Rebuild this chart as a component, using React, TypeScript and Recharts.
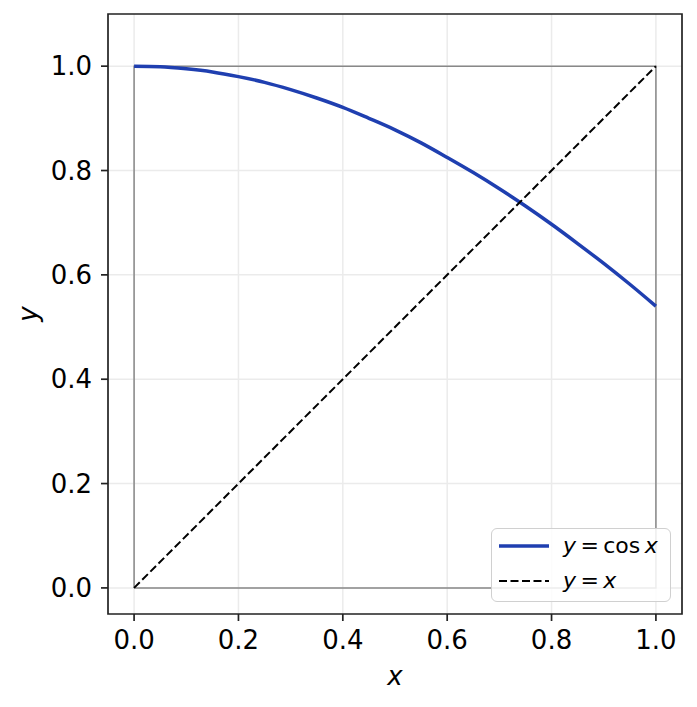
import React from 'react';
import {
  ComposedChart,
  Line,
  XAxis,
  YAxis,
  CartesianGrid,
  ReferenceArea,
  Legend,
  Label,
} from 'recharts';

const X_TICKS = [0, 0.2, 0.4, 0.6, 0.8, 1.0];
const Y_TICKS = [0, 0.2, 0.4, 0.6, 0.8, 1.0];

const COS_X = [0, 0.05, 0.1, 0.15, 0.2, 0.25, 0.3, 0.35, 0.4, 0.45, 0.5, 0.55, 0.6, 0.65, 0.7, 0.75, 0.8, 0.85, 0.9, 0.95, 1.0];
const COS_Y = [1.0, 0.999, 0.995, 0.989, 0.98, 0.969, 0.955, 0.939, 0.921, 0.9, 0.878, 0.853, 0.825, 0.796, 0.765, 0.732, 0.697, 0.66, 0.622, 0.582, 0.54];

const DIAG_X = [0, 1];
const DIAG_Y = [0, 1];

const SQUARE_X = [0, 1, 1, 0, 0];
const SQUARE_Y = [0, 0, 1, 1, 0];

const zip = (xs: number[], ys: number[]) => xs.map((x, i) => ({ x, y: ys[i] }));

const cosData = zip(COS_X, COS_Y);
const diagData = zip(DIAG_X, DIAG_Y);
const squareData = zip(SQUARE_X, SQUARE_Y);

const FONT = '"DejaVu Sans", sans-serif';
const BLUE = '#1f3fb0';

const LegendBox = () => (
  <div
    style={{
      position: 'relative',
      width: 180,
      height: 74,
      boxSizing: 'border-box',
      border: '1.5px solid #d0d0d0',
      borderRadius: 6,
      background: 'rgba(255,255,255,0.85)',
      fontFamily: FONT,
      fontSize: 22,
      color: '#000',
    }}
  >
    <svg width={60} height={74} style={{ position: 'absolute', left: 0, top: 0 }}>
      <line x1={7} x2={57} y1={17} y2={17} stroke={BLUE} strokeWidth={3.5} />
      <line x1={7} x2={57} y1={52} y2={52} stroke="#000" strokeWidth={2} strokeDasharray="8 3.5" />
    </svg>
    <div style={{ position: 'absolute', left: 71, top: 2, whiteSpace: 'nowrap', lineHeight: '30px' }}>
      <i>y</i>&thinsp;=&thinsp;cos&thinsp;<i>x</i>
    </div>
    <div style={{ position: 'absolute', left: 71, top: 37, whiteSpace: 'nowrap', lineHeight: '30px' }}>
      <i>y</i>&thinsp;=&thinsp;<i>x</i>
    </div>
  </div>
);

export default function App() {
  return (
    <div style={{ position: 'absolute', left: 0, top: 0, width: 697, height: 707, background: '#fff' }}>
      <ComposedChart
        width={697}
        height={707}
        margin={{ top: 14, right: 15, bottom: 0, left: 0 }}
      >
        <CartesianGrid stroke="#ebebeb" strokeWidth={1.5} horizontalValues={Y_TICKS} verticalValues={X_TICKS} />
        <XAxis
          dataKey="x"
          type="number"
          domain={[-0.05, 1.05]}
          ticks={X_TICKS}
          tickFormatter={(v: number) => v.toFixed(1)}
          allowDataOverflow
          height={93}
          axisLine={false}
          tickSize={7}
          tickMargin={10}
          tickLine={{ stroke: '#222', strokeWidth: 1.7 }}
          tick={{ fill: '#000', fontSize: 26, fontFamily: FONT }}
        >
          <Label
            content={(props: any) => {
              const vb = props.viewBox || {};
              return (
                <text
                  x={vb.x + vb.width / 2}
                  y={685}
                  textAnchor="middle"
                  fontFamily={FONT}
                  fontStyle="italic"
                  fontSize={26}
                  fill="#000"
                >
                  x
                </text>
              );
            }}
          />
        </XAxis>
        <YAxis
          dataKey="y"
          type="number"
          domain={[-0.05, 1.1]}
          ticks={Y_TICKS}
          tickFormatter={(v: number) => v.toFixed(1)}
          allowDataOverflow
          width={108}
          axisLine={false}
          tickSize={7}
          tickMargin={9}
          tickLine={{ stroke: '#222', strokeWidth: 1.7 }}
          tick={{ fill: '#000', fontSize: 26, fontFamily: FONT }}
        >
          <Label
            content={(props: any) => {
              const vb = props.viewBox || {};
              const cy = vb.y + vb.height / 2;
              return (
                <text
                  x={37}
                  y={cy}
                  transform={`rotate(-90, 37, ${cy})`}
                  textAnchor="middle"
                  fontFamily={FONT}
                  fontStyle="italic"
                  fontSize={26}
                  fill="#000"
                >
                  y
                </text>
              );
            }}
          />
        </YAxis>
        <Line
          data={squareData}
          dataKey="y"
          type="linear"
          stroke="#888888"
          strokeWidth={1.5}
          dot={false}
          activeDot={false}
          isAnimationActive={false}
          legendType="none"
        />
        <Line
          data={cosData}
          dataKey="y"
          type="monotone"
          stroke={BLUE}
          strokeWidth={3.5}
          dot={false}
          activeDot={false}
          isAnimationActive={false}
        />
        <Line
          data={diagData}
          dataKey="y"
          type="linear"
          stroke="#000"
          strokeWidth={2}
          strokeDasharray="8 3.5"
          dot={false}
          activeDot={false}
          isAnimationActive={false}
        />
        <ReferenceArea
          x1={-0.05}
          x2={1.05}
          y1={-0.05}
          y2={1.1}
          fill="none"
          fillOpacity={0}
          stroke="#222"
          strokeWidth={1.7}
          ifOverflow="visible"
        />
        <Legend
          layout="horizontal"
          verticalAlign="middle"
          align="center"
          wrapperStyle={{ left: 491, top: 528, width: 180, height: 74 }}
          content={() => <LegendBox />}
        />
      </ComposedChart>
    </div>
  );
}
